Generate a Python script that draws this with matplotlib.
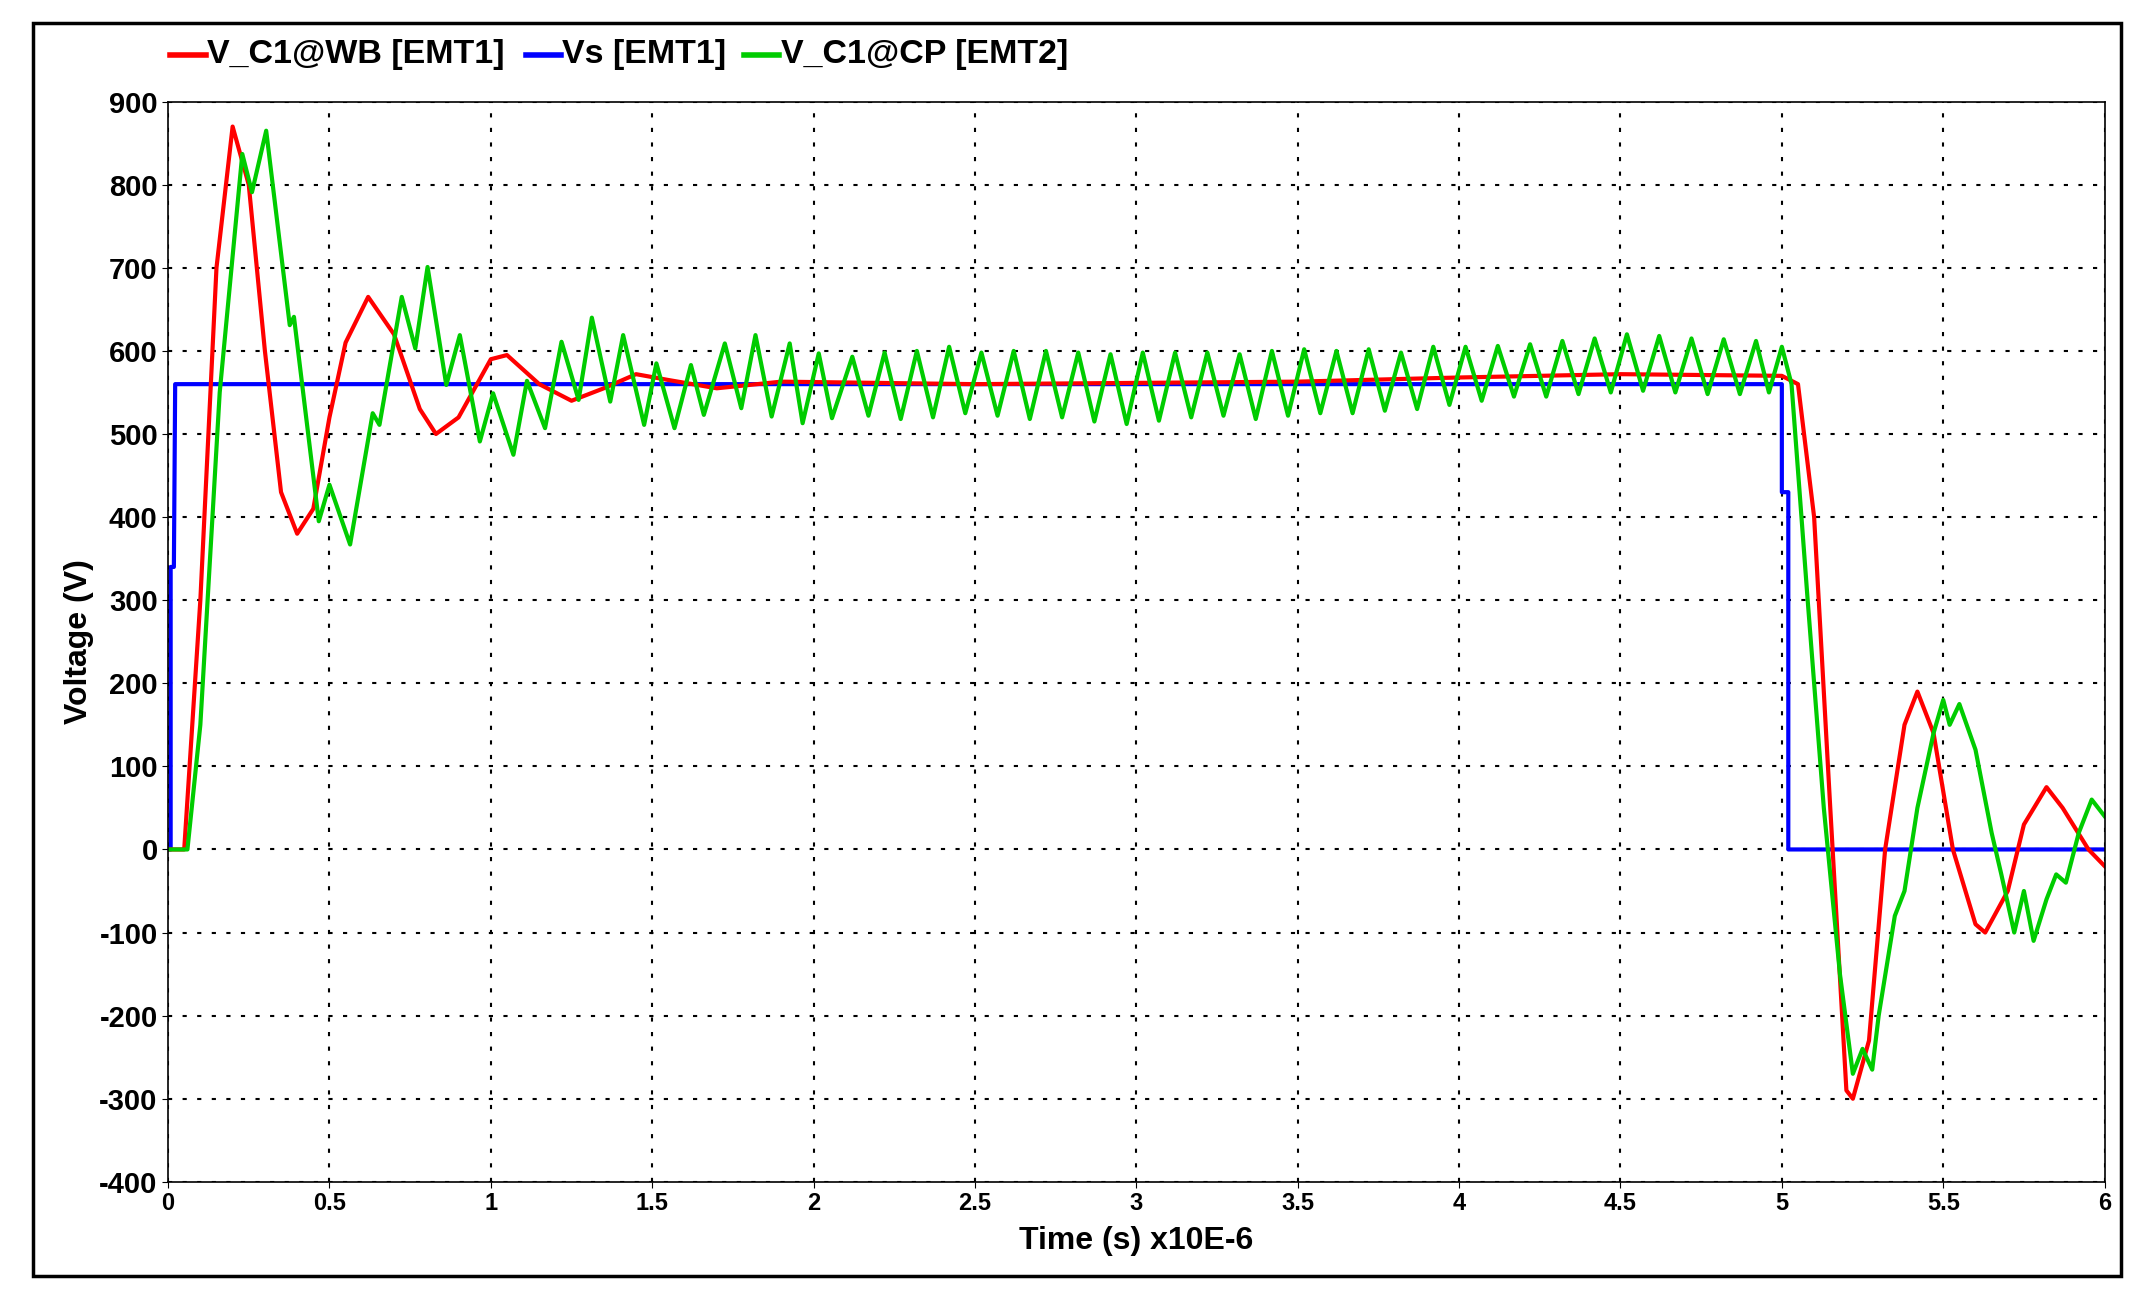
import matplotlib
matplotlib.use("Agg")
import matplotlib.pyplot as plt
from matplotlib.lines import Line2D
from matplotlib.patches import Rectangle

# time in microseconds
vs_t = [0, 0.008, 0.008, 0.018, 0.022, 5.0, 5.0, 5.02, 5.02, 6.0]
vs_v = [0, 0, 340, 340, 560, 560, 430, 430, 0, 0]

red_t = [0, 0.05, 0.1, 0.15, 0.2, 0.25, 0.3, 0.35, 0.4, 0.45, 0.5, 0.55, 0.62, 0.7,
         0.78, 0.83, 0.9, 1.0, 1.05, 1.15, 1.25, 1.35, 1.45, 1.55, 1.7, 1.9, 2.5,
         3.5, 4.0, 4.5, 5.0, 5.05, 5.1, 5.15, 5.2, 5.22, 5.27, 5.32, 5.38, 5.42,
         5.47, 5.53, 5.6, 5.63, 5.7, 5.75, 5.82, 5.87, 5.95, 6.0]
red_v = [0, 0, 300, 700, 870, 800, 600, 430, 380, 410, 520, 610, 665, 620,
         530, 500, 520, 590, 595, 560, 540, 555, 572, 565, 555, 563, 560,
         563, 568, 572, 570, 560, 400, 50, -290, -300, -230, 0, 150, 190,
         140, 0, -90, -100, -50, 30, 75, 50, 0, -20]

green_t = [0, 0.06, 0.1, 0.16, 0.23, 0.26, 0.304, 0.377, 0.39, 0.467, 0.5, 0.564,
           0.634, 0.655, 0.724, 0.766, 0.804, 0.862, 0.904, 0.966, 1.007, 1.07,
           1.112, 1.168, 1.219, 1.272, 1.313, 1.37, 1.41, 1.475, 1.513, 1.569,
           1.62, 1.66, 1.725, 1.776, 1.82, 1.87, 1.926, 1.966, 2.016, 2.057, 2.12,
           2.17, 2.22, 2.27, 2.32, 2.37, 2.42, 2.47, 2.52, 2.57, 2.62, 2.67, 2.72,
           2.77, 2.82, 2.87, 2.92, 2.97, 3.02, 3.07, 3.12, 3.17, 3.22, 3.27, 3.32,
           3.37, 3.42, 3.47, 3.52, 3.57, 3.62, 3.67, 3.72, 3.77, 3.82, 3.87, 3.92,
           3.97, 4.02, 4.07, 4.12, 4.17, 4.22, 4.27, 4.32, 4.37, 4.42, 4.47, 4.52,
           4.57, 4.62, 4.67, 4.72, 4.77, 4.82, 4.87, 4.92, 4.96, 5.0, 5.03, 5.08,
           5.13, 5.18, 5.22, 5.25, 5.28, 5.3, 5.35, 5.38, 5.42, 5.47, 5.5, 5.52,
           5.55, 5.6, 5.65, 5.68, 5.72, 5.75, 5.78, 5.82, 5.85, 5.88, 5.92, 5.96, 6.0]
green_v = [0, 0, 150, 550, 837, 791, 865, 631, 641, 395, 439, 367,
           525, 511, 665, 603, 701, 559, 619, 491, 549, 475,
           564, 507, 611, 541, 640, 539, 619, 511, 585, 507,
           583, 523, 609, 531, 619, 521, 609, 513, 597, 519, 593,
           522, 598, 518, 600, 520, 605, 525, 598, 522, 600, 518, 600,
           520, 598, 515, 596, 512, 598, 516, 598, 520, 598, 522, 596,
           518, 600, 522, 602, 525, 600, 525, 602, 528, 598, 530, 605,
           535, 605, 540, 606, 545, 608, 545, 612, 548, 615, 550, 620,
           552, 618, 550, 615, 548, 614, 548, 612, 550, 605, 560, 300,
           50, -150, -270, -240, -265, -200, -80, -50, 50, 140, 180, 150,
           175, 120, 20, -30, -100, -50, -110, -60, -30, -40, 20, 60, 40]

x_ticks = [0, 0.5, 1, 1.5, 2, 2.5, 3, 3.5, 4, 4.5, 5, 5.5, 6]
x_labels = ["0", "0.5", "1", "1.5", "2", "2.5", "3", "3.5", "4", "4.5", "5", "5.5", "6"]
y_ticks = list(range(-400, 1000, 100))

plt.rcParams["font.family"] = ["Liberation Sans", "DejaVu Sans"]
plt.rcParams["font.weight"] = "bold"
plt.rcParams["axes.unicode_minus"] = False

fig = plt.figure(figsize=(21.41, 13.03), dpi=100)
ax = fig.add_axes([0.0785, 0.093, 0.9045, 0.829])

ax.plot(vs_t, vs_v, color="#0000ff", lw=3)
ax.plot(red_t, red_v, color="#ff0000", lw=3)
ax.plot(green_t, green_v, color="#00cc00", lw=3)

ax.set_xlim(0, 6)
ax.set_ylim(-400, 900)
ax.set_xticks(x_ticks)
ax.set_xticklabels(x_labels)
ax.set_yticks(y_ticks)
ax.tick_params(labelsize=21, length=4)
for lab in ax.get_xticklabels():
    lab.set_fontsize(17)
ax.grid(True, color="black", ls=(0, (2, 5)), lw=1.5)
ax.set_xlabel("Time (s) x10E-6", fontsize=23, fontweight="bold", labelpad=8)
ax.set_ylabel("Voltage (V)", fontsize=23, fontweight="bold", labelpad=4)
for s in ax.spines.values():
    s.set_linewidth(1.2)

# outer frame
fig.patches.append(Rectangle((0.0153, 0.021), 0.9752, 0.961, transform=fig.transFigure,
                             fill=False, lw=2.5, color="black"))

# legend above axes
items = [("V_C1@WB [EMT1]", "#ff0000", 0.0795), ("Vs [EMT1]", "#0000ff", 0.2455),
         ("V_C1@CP [EMT2]", "#00cc00", 0.3475)]
for text, col, x0 in items:
    fig.add_artist(Line2D([x0, x0 + 0.0165], [0.958, 0.958], color=col, lw=4,
                          transform=fig.transFigure))
    fig.text(x0 + 0.0172, 0.958, text, fontsize=24.5, fontweight="bold", va="center")

fig.savefig("out.png", dpi=100)
